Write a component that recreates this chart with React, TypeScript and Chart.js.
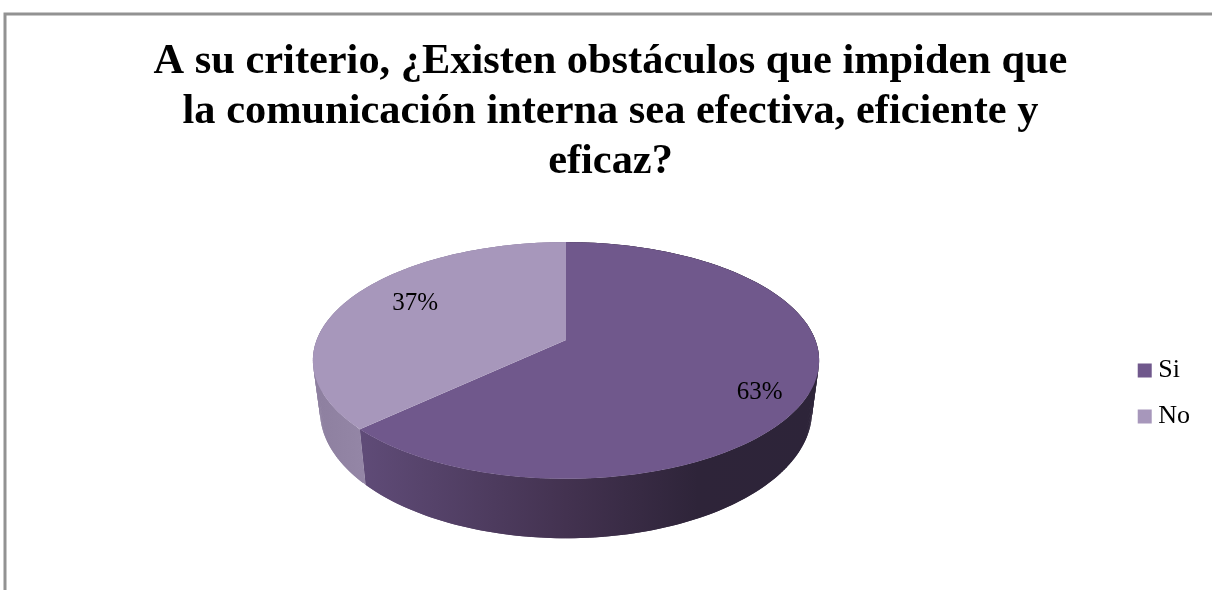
import React, { useEffect, useRef } from "react";
import { Chart, registerables } from "chart.js";

Chart.register(...registerables);

const categories = ["Si", "No"];
const shares = [63, 37];
const sliceColors = ["#70588C", "#A797BB"];
const titleLines = [
  "A su criterio, ¿Existen obstáculos que impiden que",
  "la comunicación interna sea efectiva, eficiente y",
  "eficaz?",
];

// Side-wall shading, left to right across the disc.
const wallStops = [
  [
    [0, "#6a5484"],
    [0.1, "#5f4b77"],
    [0.5, "#433250"],
    [0.76, "#2e2439"],
    [1, "#2d2439"],
  ],
  [
    [0, "#8d7f9f"],
    [0.1, "#9486a6"],
    [1, "#9486a6"],
  ],
];

const FONT = '"Liberation Serif", "Times New Roman", serif';

// Perspective of the disc: the circle is tilted away from the viewer, so its
// centre lands above the middle of the ellipse it projects to.
const disc = { cx: 566, apexY: 340, a: 56, c: -0.173, scale: 249.3 };
// The lower rim is a slightly narrower and rounder ellipse than the upper one.
const wall = { topMidY: 361, lowMidY: 411.5, stretchY: 128 / 119, shrink: 0.972, left: 313, right: 819 };

function project(angle: number, fraction = 1) {
  // Chart.js angles are measured from +x; rotation -90deg puts 0 at 12 o'clock.
  const u = Math.cos(angle) * fraction;
  const t = Math.sin(angle) * fraction;
  const w = 1 + disc.c * t;
  return { x: disc.cx + (disc.scale * u) / w, y: (disc.a * t + disc.apexY) / w };
}

function lower(p: { x: number; y: number }) {
  return {
    x: disc.cx + (p.x - disc.cx) * wall.shrink,
    y: wall.lowMidY + (p.y - wall.topMidY) * wall.stretchY,
  };
}

function rim(start: number, end: number) {
  const n = Math.max(2, Math.ceil((end - start) * 60));
  const pts = [];
  for (let i = 0; i <= n; i++) pts.push(start + ((end - start) * i) / n);
  return pts;
}

const labelPlacement = [
  { fraction: 0.8, dy: 14 },
  { fraction: 0.69, dy: -7 },
];

const tiltedPie = {
  id: "tiltedPie",
  beforeDraw(chart: any) {
    const { ctx, width, height } = chart;
    ctx.save();
    ctx.fillStyle = "#ffffff";
    ctx.fillRect(0, 0, width, height);
    ctx.strokeStyle = "#929292";
    ctx.lineWidth = 3;
    ctx.beginPath();
    ctx.moveTo(5, height);
    ctx.lineTo(5, 14);
    ctx.lineTo(width, 14);
    ctx.stroke();
    ctx.restore();
  },
  beforeDatasetsDraw(chart: any) {
    const { ctx } = chart;
    const arcs = chart.getDatasetMeta(0).data;
    ctx.save();

    // Side wall of each slice, built from overlapping strips between the rims.
    arcs.forEach((arc: any, i: number) => {
      const grad = ctx.createLinearGradient(wall.left, 0, wall.right, 0);
      wallStops[i].forEach(([o, c]: any) => grad.addColorStop(o, c));
      ctx.fillStyle = grad;
      const top = rim(arc.startAngle, arc.endAngle).map((a) => project(a));
      for (let k = 0; k < top.length - 1; k++) {
        const a = top[k];
        const b = top[Math.min(k + 2, top.length - 1)];
        const c = lower(b);
        const d = lower(a);
        ctx.beginPath();
        ctx.moveTo(a.x, a.y);
        ctx.lineTo(b.x, b.y);
        ctx.lineTo(c.x, c.y);
        ctx.lineTo(d.x, d.y);
        ctx.closePath();
        ctx.fill();
      }
    });

    // Upper face of each slice.
    arcs.forEach((arc: any, i: number) => {
      const apex = project(0, 0);
      ctx.beginPath();
      ctx.moveTo(apex.x, apex.y);
      rim(arc.startAngle, arc.endAngle).forEach((a) => {
        const p = project(a);
        ctx.lineTo(p.x, p.y);
      });
      ctx.closePath();
      ctx.fillStyle = sliceColors[i];
      ctx.fill();
    });

    // Percentage labels.
    ctx.fillStyle = "#000000";
    ctx.font = `25px ${FONT}`;
    ctx.textAlign = "center";
    ctx.textBaseline = "middle";
    arcs.forEach((arc: any, i: number) => {
      const mid = (arc.startAngle + arc.endAngle) / 2;
      const { fraction, dy } = labelPlacement[i];
      const p = project(mid, fraction);
      ctx.fillText(`${shares[i]}%`, p.x, p.y + dy);
    });

    ctx.restore();
    return false;
  },
};

export default function App() {
  const ref = useRef<HTMLCanvasElement>(null);

  useEffect(() => {
    const chart = new Chart(ref.current!, {
      type: "pie",
      data: {
        labels: categories,
        datasets: [{ data: shares, backgroundColor: sliceColors, borderWidth: 0 }],
      },
      plugins: [tiltedPie],
      options: {
        responsive: false,
        animation: false,
        layout: { padding: { top: 37, left: 21, right: 12, bottom: -7 } },
        plugins: {
          tooltip: { enabled: false },
          title: {
            display: true,
            text: titleLines,
            color: "#000000",
            font: { family: FONT, size: 42.4, weight: "bold", lineHeight: 50 / 42.4 },
            padding: { top: 0, bottom: 10 },
          },
          legend: {
            position: "right",
            fullSize: false,
            labels: {
              boxWidth: 1,
              boxHeight: 1,
              padding: 20,
              color: "#000000",
              font: { family: FONT, size: 26 },
              generateLabels: () =>
                categories.map((text, i) => ({
                  text,
                  fillStyle: sliceColors[i],
                  strokeStyle: sliceColors[i],
                  lineWidth: 13,
                  index: i,
                  datasetIndex: 0,
                  hidden: false,
                })),
            },
          },
        },
      },
    });
    return () => chart.destroy();
  }, []);

  return (
    <div style={{ position: "fixed", left: 0, top: 0, width: 1212, height: 590 }}>
      <canvas ref={ref} width={1212} height={590} style={{ display: "block" }} />
    </div>
  );
}
